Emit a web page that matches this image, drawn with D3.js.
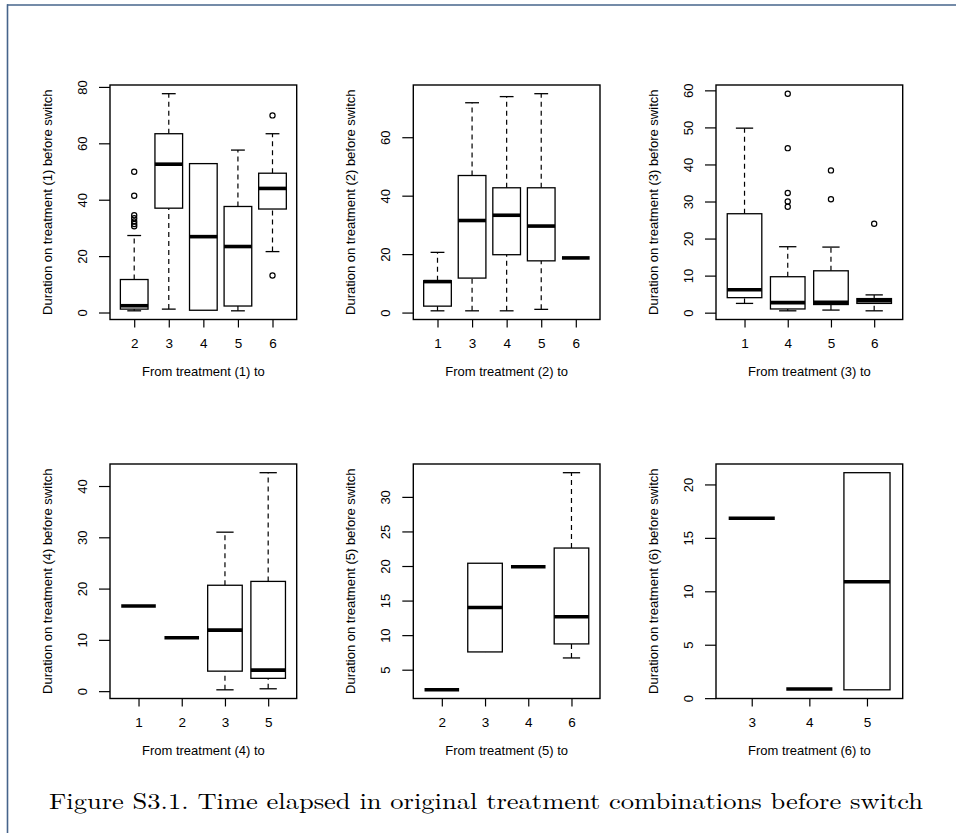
<!DOCTYPE html>
<html>
<head>
<meta charset="utf-8">
<script src="https://cdn.jsdelivr.net/npm/d3@7"></script>
<style>
    html, body { margin: 0; padding: 0; background: #fff; }
    svg text { font-family: "Liberation Sans", Arial, Helvetica, sans-serif; fill: #000; }
    svg text.caption { font-family: "Latin Modern Roman", "CMU Serif", "Liberation Serif", "Times New Roman", serif; }
</style>
</head>
<body>
<div id="plot"></div>
<script>
// Treatment each panel starts from.
const panel_from = [1, 2, 3, 4, 5, 6];

// Treatments switched to (x categories) per panel.
const panel_cats = [
    [2, 3, 4, 5, 6],
    [1, 3, 4, 5, 6],
    [1, 4, 5, 6],
    [1, 2, 3, 5],
    [2, 3, 4, 6],
    [3, 4, 5]
];

// Box stats per category: [lower whisker, Q1, median, Q3, upper whisker].
const panel_stats = [
    [[0.6, 1.2, 2.4, 11.7, 27.3], [1.2, 37.0, 52.6, 63.4, 77.6], [0.8, 0.8, 26.9, 52.8, 52.8],
     [0.6, 2.3, 23.4, 37.6, 57.6], [21.6, 36.7, 44.0, 49.4, 63.4]],
    [[0.6, 2.2, 10.6, 10.9, 20.6], [0.6, 11.8, 31.5, 46.9, 71.8], [0.6, 19.8, 33.3, 42.7, 73.9],
     [1.1, 17.7, 29.6, 42.7, 74.9], [18.7, 18.7, 18.7, 18.7, 18.7]],
    [[2.5, 4.05, 6.2, 26.7, 49.8], [0.5, 1.0, 2.7, 9.7, 17.8], [0.7, 2.2, 2.8, 11.3, 17.7],
     [0.5, 2.5, 3.2, 3.8, 4.8]],
    [[16.6, 16.6, 16.6, 16.6, 16.6], [10.4, 10.4, 10.4, 10.4, 10.4], [0.26, 3.9, 11.9, 20.65, 31.0],
     [0.46, 2.5, 4.1, 21.4, 42.6]],
    [[2.09, 2.09, 2.09, 2.09, 2.09], [7.57, 7.57, 14.0, 20.4, 20.4], [19.9, 19.9, 19.9, 19.9, 19.9],
     [6.7, 8.73, 12.65, 22.6, 33.5]],
    [[16.83, 16.83, 16.83, 16.83, 16.83], [0.85, 0.85, 0.85, 0.85, 0.85], [0.78, 0.78, 10.9, 21.1, 21.1]]
];

// Outlying points per category.
const panel_outliers = [
    [[49.9, 41.4, 34.5, 33.4, 32.3, 31.4, 30.6], [], [], [], [69.9, 13.1]],
    [[], [], [], [], []],
    [[], [59.1, 44.4, 32.3, 30.0, 28.6], [38.4, 30.6], [24.0]],
    [[], [], [], []],
    [[], [], [], []],
    [[], [], []]
];

// Y axis tick values per panel.
const panel_yticks = [
    [0, 20, 40, 60, 80],
    [0, 20, 40, 60],
    [0, 10, 20, 30, 40, 50, 60],
    [0, 10, 20, 30, 40],
    [5, 10, 15, 20, 25, 30],
    [0, 5, 10, 15, 20]
];

const caption = "Figure S3.1. Time elapsed in original treatment combinations before switch";

// Canvas and panel geometry.
const width = 956, height = 833;
const col_left = [110, 413.3, 716], row_top = [85, 464];
const box_w = 186.7, box_h = 234.5;

const svg = d3.select("div#plot").append("svg")
    .attr("width", width)
    .attr("height", height);

// Page frame (top and left edges only are visible).
svg.append("line")
    .attr("x1", 7).attr("x2", width).attr("y1", 5).attr("y2", 5)
    .style("stroke", "#46648b").style("stroke-width", 1.6);
svg.append("line")
    .attr("x1", 7.5).attr("x2", 7.5).attr("y1", 4.2).attr("y2", height)
    .style("stroke", "#46648b").style("stroke-width", 1.6);

function draw_panel(i) {
    var left = col_left[i % 3], top = row_top[Math.floor(i / 3)];
    var right = left + box_w, bottom = top + box_h;
    var cats = panel_cats[i], outs = panel_outliers[i];
    var n = cats.length;

    // Keeping the category position with each box so filters don't shift it.
    var stats = panel_stats[i].map((s, k) => ({pos: k + 1, s: s}));

    // R style ranges: categories at 1..n, 4% padding on both axes.
    var x = d3.scaleLinear()
        .domain([0.5 - 0.04 * n, n + 0.5 + 0.04 * n])
        .range([left, right]);

    var all = panel_stats[i].flat().concat(outs.flat());
    var lo = d3.min(all), hi = d3.max(all), pad = (hi - lo) * 0.04;
    var y = d3.scaleLinear()
        .domain([lo - pad, hi + pad])
        .range([bottom, top]);

    var g = svg.append("g").attr("class", "panel");

    // Y axis.
    var y_axis = g.append("g")
        .attr("transform", "translate(" + left + ",0)")
        .call(d3.axisLeft(y).tickValues(panel_yticks[i]).tickSize(11).tickFormat(d3.format("d")));
    y_axis.select(".domain").remove();
    y_axis.selectAll("line").style("stroke-width", 1.2);
    y_axis.selectAll("text")
        .attr("x", null).attr("dy", null)
        .attr("transform", "translate(-28,0) rotate(-90)")
        .attr("text-anchor", "middle")
        .attr("dy", "0.36em")
        .style("font-size", "13px");

    // X axis.
    var x_axis = g.append("g")
        .attr("transform", "translate(0," + bottom + ")")
        .call(d3.axisBottom(x).tickValues(d3.range(1, n + 1)).tickSize(8)
            .tickFormat((d, k) => cats[k]));
    x_axis.select(".domain").remove();
    x_axis.selectAll("line").style("stroke-width", 1.2);
    x_axis.selectAll("text")
        .attr("y", 28).attr("dy", null)
        .style("font-size", "13.5px");

    // Axis titles.
    g.append("text")
        .attr("transform", "translate(" + (left - 63) + "," + ((top + bottom) / 2) + ") rotate(-90)")
        .attr("text-anchor", "middle")
        .attr("dy", "0.36em")
        .style("font-size", "13px")
        .text("Duration on treatment (" + panel_from[i] + ") before switch");

    g.append("text")
        .attr("x", (left + right) / 2)
        .attr("y", bottom + 56)
        .attr("text-anchor", "middle")
        .style("font-size", "13px")
        .text("From treatment (" + panel_from[i] + ") to");

    // Boxes.
    var boxes = g.selectAll("g.box")
        .data(stats)
        .join("g")
            .attr("class", "box");

    // Dashed whiskers.
    boxes.append("line")
        .attr("x1", d => x(d.pos)).attr("x2", d => x(d.pos))
        .attr("y1", d => y(d.s[0])).attr("y2", d => y(d.s[1]))
        .style("stroke", "#000").style("stroke-width", 1.2).style("stroke-dasharray", "5,4");
    boxes.append("line")
        .attr("x1", d => x(d.pos)).attr("x2", d => x(d.pos))
        .attr("y1", d => y(d.s[3])).attr("y2", d => y(d.s[4]))
        .style("stroke", "#000").style("stroke-width", 1.2).style("stroke-dasharray", "5,4");

    // Staples (only drawn where a whisker exists).
    boxes.filter(d => d.s[0] < d.s[1]).append("line")
        .attr("x1", d => x(d.pos - 0.2)).attr("x2", d => x(d.pos + 0.2))
        .attr("y1", d => y(d.s[0])).attr("y2", d => y(d.s[0]))
        .style("stroke", "#000").style("stroke-width", 1.3);
    boxes.filter(d => d.s[4] > d.s[3]).append("line")
        .attr("x1", d => x(d.pos - 0.2)).attr("x2", d => x(d.pos + 0.2))
        .attr("y1", d => y(d.s[4])).attr("y2", d => y(d.s[4]))
        .style("stroke", "#000").style("stroke-width", 1.3);

    // Box body.
    boxes.filter(d => d.s[3] > d.s[1]).append("rect")
        .attr("x", d => x(d.pos - 0.4))
        .attr("width", d => x(d.pos + 0.4) - x(d.pos - 0.4))
        .attr("y", d => y(d.s[3]))
        .attr("height", d => y(d.s[1]) - y(d.s[3]))
        .style("fill", "#fff").style("stroke", "#000").style("stroke-width", 1.3);

    // Median.
    boxes.append("line")
        .attr("x1", d => x(d.pos - 0.4)).attr("x2", d => x(d.pos + 0.4))
        .attr("y1", d => y(d.s[2])).attr("y2", d => y(d.s[2]))
        .style("stroke", "#000").style("stroke-width", 3.6);

    // Outliers.
    outs.forEach(function(o, k) {
        g.selectAll(null)
            .data(o)
            .join("circle")
                .attr("cx", x(k + 1))
                .attr("cy", d => y(d))
                .attr("r", 2.6)
                .style("fill", "none").style("stroke", "#000").style("stroke-width", 1.2);
    });

    // Plot frame.
    g.append("rect")
        .attr("x", left).attr("y", top)
        .attr("width", box_w).attr("height", box_h)
        .style("fill", "none").style("stroke", "#000").style("stroke-width", 1.4);
}

panel_from.forEach((d, i) => draw_panel(i));

// Figure caption, stretched to the width it takes in the picture.
svg.append("text")
    .attr("class", "caption")
    .attr("x", 49)
    .attr("y", 809)
    .attr("textLength", 874)
    .attr("lengthAdjust", "spacingAndGlyphs")
    .style("font-size", "22.5px")
    .text(caption);
</script>
</body>
</html>
